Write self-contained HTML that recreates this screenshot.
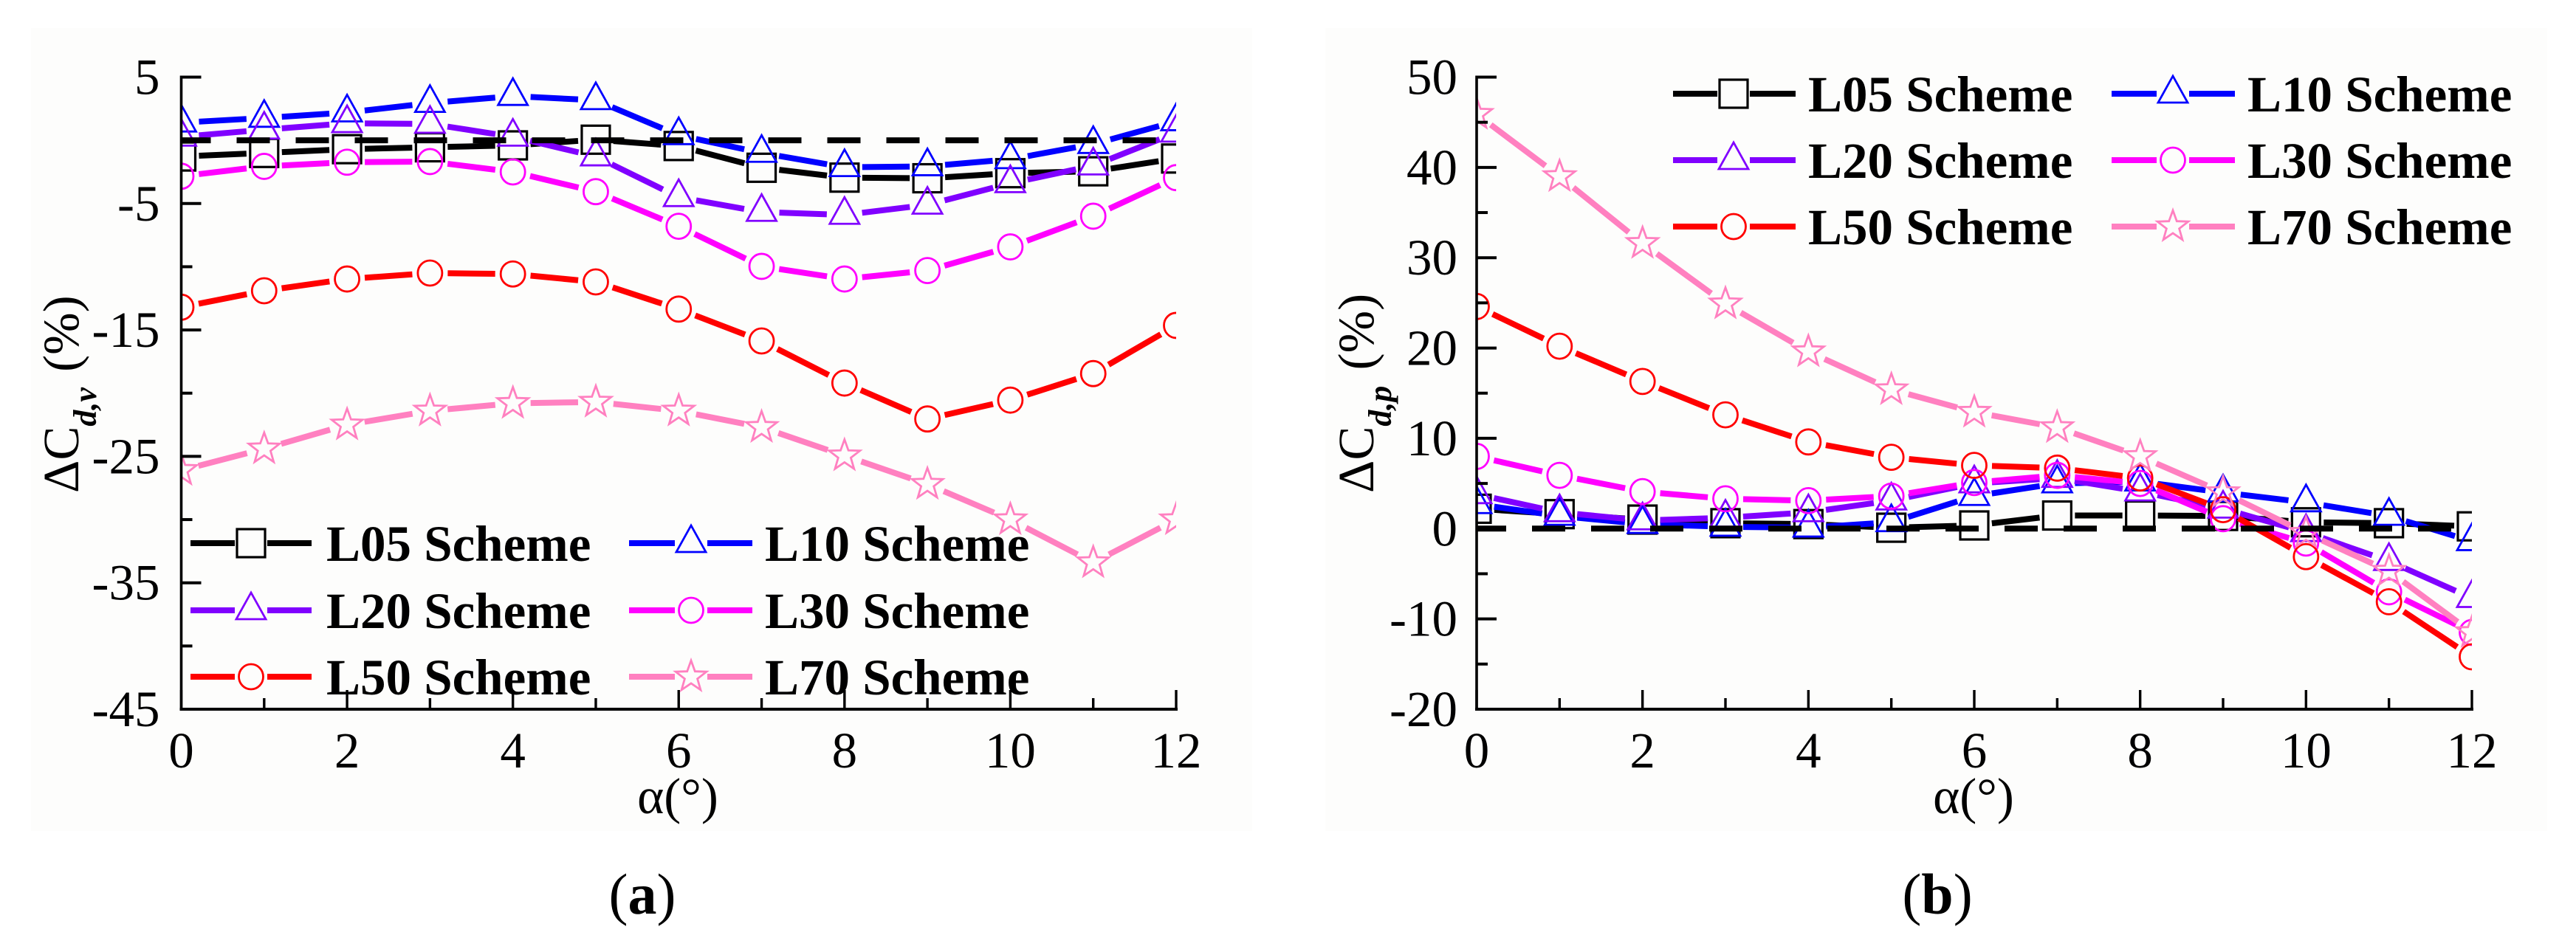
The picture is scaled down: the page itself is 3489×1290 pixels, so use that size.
<!DOCTYPE html>
<html lang="en">
<head>
<meta charset="utf-8">
<title>Drag coefficient change charts</title>
<style>
html,body{margin:0;padding:0;background:#fff;width:3489px;height:1290px;overflow:hidden}
svg{display:block;font-family:"Liberation Serif","Times New Roman",serif;fill:#000}
</style>
</head>
<body>
<svg id="fig" width="3489" height="1290" viewBox="0 0 3489 1290" xmlns="http://www.w3.org/2000/svg">
  <rect x="42" y="38" width="1654" height="1088" fill="#fdfdfc"/>
  <rect x="1795" y="38" width="1655" height="1088" fill="#fdfdfc"/>
  <text transform="translate(106,668) rotate(-90)" font-size="69">ΔC<tspan font-size="44" font-weight="bold" font-style="italic" dy="24">d,v</tspan><tspan dy="-24" dx="4"> (%)</tspan></text>
  <text transform="translate(1860,668) rotate(-90)" font-size="69">ΔC<tspan font-size="44" font-weight="bold" font-style="italic" dy="24">d,p</tspan><tspan dy="-24" dx="4"> (%)</tspan></text>
  <text x="918" y="1102" font-size="69" text-anchor="middle">α(°)</text>
  <text x="2673" y="1102" font-size="69" text-anchor="middle">α(°)</text>
  <text x="870" y="1238" font-size="78" text-anchor="middle">(<tspan font-weight="bold">a</tspan>)</text>
  <text x="2624" y="1238" font-size="78" text-anchor="middle">(<tspan font-weight="bold">b</tspan>)</text>
</svg>
<script>
// Shared categories
const alphaValues = [0,1,2,3,4,5,6,7,8,9,10,11,12];
const xTickLabels = [0,2,4,6,8,10,12];
const xMinorTicks = [1,3,5,7,9,11];

// Panel (a) values
const aTickLabels = [5,-5,-15,-25,-35,-45];
const aMinorTicks = [0,-10,-20,-30,-40];
const aL05 = [-1.28,-1.0,-0.7,-0.55,-0.4,0.05,-0.45,-2.17,-2.95,-3.0,-2.6,-2.45,-1.44];
const aL10 = [1.4,1.77,2.2,2.95,3.5,3.17,0.4,-1.0,-2.13,-2.06,-1.5,-0.3,1.5];
const aL20 = [0.28,0.84,1.35,1.3,0.28,-1.28,-4.5,-5.67,-5.9,-5.1,-3.4,-2.0,0.6];
const aL30 = [-2.84,-2.06,-1.73,-1.68,-2.5,-4.06,-6.8,-9.97,-10.97,-10.3,-8.43,-6.0,-2.95];
const aL50 = [-13.2,-11.9,-10.97,-10.5,-10.57,-11.2,-13.35,-15.87,-19.2,-22.04,-20.55,-18.45,-14.64];
const aL70 = [-26.1,-24.4,-22.5,-21.4,-20.8,-20.7,-21.4,-22.7,-24.95,-27.2,-30,-33.4,-30];

// Panel (b) values
const bTickLabels = [50,40,30,20,10,0,-10,-20];
const bMinorTicks = [45,35,25,15,5,-5,-15];
const bL05 = [2.2,1.6,1.0,0.6,0.5,0.1,0.35,1.45,1.45,1.4,0.7,0.6,0.25];
const bL10 = [2.7,1.4,0.5,0.2,0.1,0.7,3.6,5.0,5.2,4.0,2.9,1.4,-1.4];
const bL20 = [3.8,1.8,0.9,1.2,1.8,3.1,5.0,5.6,4.1,2.2,-0.4,-3.6,-7.7];
const bL30 = [8.0,5.9,4.1,3.3,3.1,3.6,5.1,5.9,5.0,1.1,-1.6,-7,-11.5];
const bL50 = [24.6,20.2,16.3,12.6,9.6,7.9,7.0,6.7,5.6,2.1,-3.1,-8.1,-14.2];
const bL70 = [45.9,39.0,31.6,24.9,19.6,15.4,12.9,11.2,8.0,4.0,-0.5,-4.7,-11.5];

const schemeNames = ['L05','L10','L20','L30','L50','L70'];
const schemeColors = ['#000000','#0000ff','#8000ff','#ff00ff','#ff0000','#ff80c0'];
const schemeMarkers = ['square','triangle','triangle','circle','circle','star'];

const SVG_NS = 'http://www.w3.org/2000/svg';
const fig = document.getElementById('fig');

function mk(tag, attrs, parent) {
  const el = document.createElementNS(SVG_NS, tag);
  for (const k in attrs) el.setAttribute(k, attrs[k]);
  (parent || fig).appendChild(el);
  return el;
}

function drawMarker(kind, cx, cy, color, parent) {
  let el;
  if (kind === 'square') {
    el = mk('rect', {x: cx - 19, y: cy - 19, width: 38, height: 38}, parent);
  } else if (kind === 'circle') {
    el = mk('ellipse', {cx: cx, cy: cy, rx: 16.5, ry: 17}, parent);
  } else if (kind === 'triangle') {
    el = mk('polygon', {points: [[cx, cy - 24], [cx - 20, cy + 12], [cx + 20, cy + 12]].map(p => p.join(',')).join(' ')}, parent);
  } else {
    const pts = [];
    for (let i = 0; i < 10; i++) {
      const r = i % 2 ? 9 : 22;
      const a = -Math.PI / 2 + i * Math.PI / 5;
      pts.push((cx + r * Math.cos(a)).toFixed(1) + ',' + (cy + r * Math.sin(a)).toFixed(1));
    }
    el = mk('polygon', {points: pts.join(' ')}, parent);
  }
  el.setAttribute('fill', 'none');
  el.setAttribute('stroke', color);
  el.setAttribute('stroke-width', kind === 'square' ? 3.2 : 2.8);
  return el;
}

function drawPanel(cfg) {
  const clipId = 'clip-' + cfg.id;
  const defs = mk('defs', {});
  const clip = mk('clipPath', {id: clipId}, defs);
  mk('rect', {x: cfg.x0, y: 60, width: cfg.x1 - cfg.x0, height: 900}, clip);

  const x = v => cfg.x0 + (v - cfg.xMin) / (cfg.xMax - cfg.xMin) * (cfg.x1 - cfg.x0);
  const y = v => cfg.yTop + (cfg.yMax - v) / (cfg.yMax - cfg.yMin) * (cfg.yBot - cfg.yTop);

  const plot = mk('g', {'clip-path': 'url(#' + clipId + ')'});
  
  

  cfg.series.forEach((values, s) => {
    const color = schemeColors[s];
    const g = mk('g', {}, plot);
    
    
    const gap = 24;
    for (let i = 0; i < values.length - 1; i++) {
      const ax = x(alphaValues[i]), ay = y(values[i]);
      const bx = x(alphaValues[i + 1]), by = y(values[i + 1]);
      const len = Math.hypot(bx - ax, by - ay);
      const ux = (bx - ax) / len, uy = (by - ay) / len;
      const seg = mk('line', {
        x1: ax + ux * gap, y1: ay + uy * gap, x2: bx - ux * gap, y2: by - uy * gap,
        stroke: color, 'stroke-width': 8
      }, g);
      
      
    }
    values.forEach((v, i) => {
      const m = drawMarker(schemeMarkers[s], x(alphaValues[i]), y(v), color, g);
      
      
    });
  });

  const zero = mk('line', {
    x1: x(cfg.xMin), x2: cfg.x1 - 4, y1: y(0), y2: y(0),
    stroke: '#000', 'stroke-width': 8, 'stroke-dasharray': '45 35', 'stroke-dashoffset': 5
  }, plot);
  
  

  const axes = mk('g', {stroke: '#000'});
  
  
  mk('line', {x1: cfg.x0, x2: cfg.x0, y1: cfg.yTop - 2, y2: cfg.yBot + 2, 'stroke-width': 3.6}, axes);
  mk('line', {x1: cfg.x0 - 2, x2: cfg.x1 + 2, y1: cfg.yBot, y2: cfg.yBot, 'stroke-width': 4}, axes);

  cfg.yLabels.forEach(v => {
    const t = mk('line', {x1: cfg.x0, x2: cfg.x0 + 27, y1: y(v), y2: y(v), 'stroke-width': 4}, axes);
    
    
    const lab = mk('text', {x: cfg.x0 - cfg.labelGap, y: y(v) + 23, 'font-size': 69, 'text-anchor': 'end'});
    lab.textContent = String(v);
    
    
  });
  cfg.yMinor.forEach(v => {
    const t = mk('line', {x1: cfg.x0, x2: cfg.x0 + 15, y1: y(v), y2: y(v), 'stroke-width': 4}, axes);
    
    
  });
  xTickLabels.forEach(v => {
    const t = mk('line', {x1: x(v), x2: x(v), y1: cfg.yBot, y2: cfg.yBot - 26, 'stroke-width': 3.4}, axes);
    
    
    const lab = mk('text', {x: x(v), y: 1040, 'font-size': 69, 'text-anchor': 'middle'});
    lab.textContent = String(v);
    
    
  });
  xMinorTicks.forEach(v => {
    const t = mk('line', {x1: x(v), x2: x(v), y1: cfg.yBot, y2: cfg.yBot - 15, 'stroke-width': 3.4}, axes);
    
    
  });

  const legend = mk('g', {});
  
  
  schemeNames.forEach((name, s) => {
    const col = s % 2, row = Math.floor(s / 2);
    const c = cfg.legendCols[col];
    const ry = cfg.legendRows[row];
    const entry = mk('g', {}, legend);
    
    
    const halfGap = 22;
    mk('line', {x1: c.start, x2: c.marker - halfGap, y1: ry, y2: ry, stroke: schemeColors[s], 'stroke-width': 8}, entry);
    mk('line', {x1: c.marker + halfGap, x2: c.end, y1: ry, y2: ry, stroke: schemeColors[s], 'stroke-width': 8}, entry);
    drawMarker(schemeMarkers[s], c.marker, ry, schemeColors[s], entry);
    const tx = mk('text', {x: c.text, y: ry + 24, 'font-size': 69, 'font-weight': 'bold'}, entry);
    tx.textContent = name + ' Scheme';
  });
}

drawPanel({
  id: 'a', x0: 245.5, x1: 1593, yTop: 104.5, yBot: 961, labelGap: 29,
  xMin: 0, xMax: 12, yMax: 5, yMin: -45,
  series: [aL05, aL10, aL20, aL30, aL50, aL70],
  yLabels: aTickLabels, yMinor: aMinorTicks,
  legendCols: [
    {start: 258, marker: 340, end: 422, text: 442},
    {start: 852, marker: 936, end: 1019, text: 1036}
  ],
  legendRows: [736, 827, 917]
});
drawPanel({
  id: 'b', x0: 2000, x1: 3348, yTop: 104.5, yBot: 961, labelGap: 26,
  xMin: 0, xMax: 12, yMax: 50, yMin: -20,
  series: [bL05, bL10, bL20, bL30, bL50, bL70],
  yLabels: bTickLabels, yMinor: bMinorTicks,
  legendCols: [
    {start: 2266, marker: 2348, end: 2432, text: 2449},
    {start: 2860, marker: 2943, end: 3027, text: 3044}
  ],
  legendRows: [127, 217, 307]
});
</script>
</body>
</html>
